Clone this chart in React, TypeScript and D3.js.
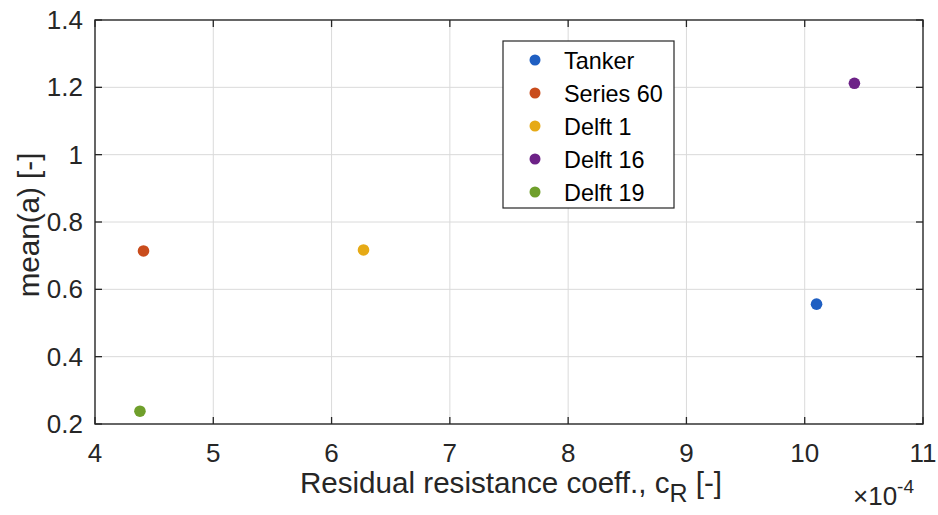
import React from "react";
import * as d3 from "d3";

const seriesNames = ["Tanker", "Series 60", "Delft 1", "Delft 16", "Delft 19"];
const xValues = [10.1, 4.41, 6.27, 10.42, 4.38]; // ×10^-4
const yValues = [0.556, 0.714, 0.717, 1.212, 0.238];
const colors = ["#1f5fc2", "#c94c1c", "#e6aa16", "#6d2287", "#6f9f2b"];
const xTicks = [4, 5, 6, 7, 8, 9, 10, 11];
const yTicks = [0.2, 0.4, 0.6, 0.8, 1, 1.2, 1.4];

const W = 938, H = 515;
const M = { left: 95, right: 923, top: 20, bottom: 424 };
const FONT = "'Liberation Sans', Arial, Helvetica, sans-serif";
const TXT = "#262626";

export default function App() {
  const x = d3.scaleLinear().domain([4, 11]).range([M.left, M.right]);
  const y = d3.scaleLinear().domain([0.2, 1.4]).range([M.bottom, M.top]);
  const tl = 7;
  const legX = 503, legY = 41, legW = 171, legH = 167;
  return (
    <svg width={W} height={H} style={{ position: "absolute", left: 0, top: 0, background: "#fff" }} fontFamily={FONT}>
      <rect x={0} y={0} width={W} height={H} fill="#fff" />
      {/* grid */}
      {xTicks.slice(1, -1).map((t) => (
        <line key={"gx" + t} x1={x(t)} x2={x(t)} y1={M.top} y2={M.bottom} stroke="#dadada" strokeWidth={1} />
      ))}
      {yTicks.slice(1, -1).map((t) => (
        <line key={"gy" + t} x1={M.left} x2={M.right} y1={y(t)} y2={y(t)} stroke="#dadada" strokeWidth={1} />
      ))}
      {/* ticks */}
      {xTicks.map((t) => (
        <g key={"tx" + t}>
          <line x1={x(t)} x2={x(t)} y1={M.bottom} y2={M.bottom - tl} stroke={TXT} strokeWidth={1.3} />
          <line x1={x(t)} x2={x(t)} y1={M.top} y2={M.top + tl} stroke={TXT} strokeWidth={1.3} />
          <text x={x(t)} y={462} textAnchor="middle" fontSize={26} fill={TXT}>{t}</text>
        </g>
      ))}
      {yTicks.map((t) => (
        <g key={"ty" + t}>
          <line x1={M.left} x2={M.left + tl} y1={y(t)} y2={y(t)} stroke={TXT} strokeWidth={1.3} />
          <line x1={M.right} x2={M.right - tl} y1={y(t)} y2={y(t)} stroke={TXT} strokeWidth={1.3} />
          <text x={83} y={y(t) + 9} textAnchor="end" fontSize={26} fill={TXT}>{d3.format("~g")(t)}</text>
        </g>
      ))}
      {/* axes box */}
      <rect x={M.left} y={M.top} width={M.right - M.left} height={M.bottom - M.top} fill="none" stroke={TXT} strokeWidth={1.4} />
      {/* points */}
      {seriesNames.map((n, i) => (
        <circle key={n} cx={x(xValues[i])} cy={y(yValues[i])} r={5.8} fill={colors[i]} />
      ))}
      {/* legend */}
      <rect x={legX} y={legY} width={legW} height={legH} fill="#fff" stroke={TXT} strokeWidth={1.2} />
      {seriesNames.map((n, i) => (
        <g key={"l" + n}>
          <circle cx={535} cy={60 + i * 33} r={5.5} fill={colors[i]} />
          <text x={564} y={60 + i * 33 + 8.5} fontSize={23.4} fill="#000">{n}</text>
        </g>
      ))}
      {/* axis labels */}
      <text x={(M.left + M.right) / 2 + 2} y={493} textAnchor="middle" fontSize={29.6} fill={TXT}>
        Residual resistance coeff., c<tspan fontSize={25} dy={9}>R</tspan><tspan dy={-9}> [-]</tspan>
      </text>
      <text transform={`translate(39,${(M.top + M.bottom) / 2 + 3}) rotate(-90)`} textAnchor="middle" fontSize={29.6} fill={TXT}>
        mean(a) [-]
      </text>
      <text x={853} y={505} fontSize={26} fill={TXT}>
        ×10<tspan fontSize={19} dy={-12}>-4</tspan>
      </text>
    </svg>
  );
}
